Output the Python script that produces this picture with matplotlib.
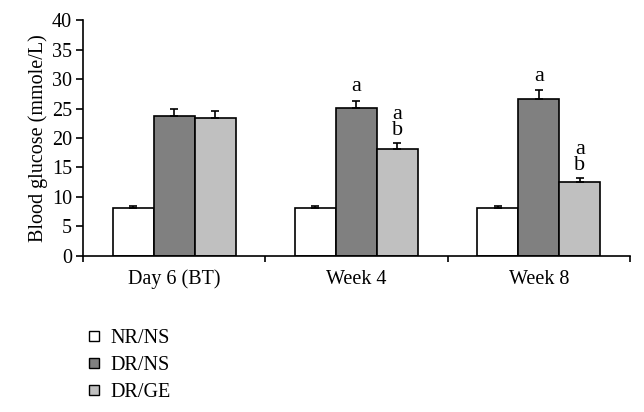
import numpy as np
import matplotlib
matplotlib.use("Agg")
import matplotlib.pyplot as plt
from matplotlib.lines import Line2D

# data
categories = ['Day 6 (BT)', 'Week 4', 'Week 8']
groups = ['NR/NS', 'DR/NS', 'DR/GE']
nr_ns = [8.1, 8.1, 8.1]
nr_ns_err = [0.4, 0.4, 0.4]
dr_ns = [23.8, 25.1, 26.7]
dr_ns_err = [1.2, 1.2, 1.4]
dr_ge = [23.4, 18.2, 12.5]
dr_ge_err = [1.2, 0.9, 0.7]
dr_ns_marks = ['', 'a', 'a']
dr_ge_marks = ['', 'a\nb', 'a\nb']

colors = ['#ffffff', '#808080', '#c0c0c0']

plt.rcParams['font.family'] = ['Liberation Serif', 'DejaVu Serif']

fig = plt.figure(figsize=(6.44, 4.12), dpi=100)
ax = fig.add_axes([0.129, 0.379, 0.849, 0.572])

x = np.arange(len(categories))
w = 0.225
series = [(nr_ns, nr_ns_err), (dr_ns, dr_ns_err), (dr_ge, dr_ge_err)]
for i, (vals, errs) in enumerate(series):
    pos = x + (i - 1) * w
    ax.bar(pos, vals, width=w, color=colors[i], edgecolor='black', linewidth=1.2,
           yerr=[np.zeros(len(errs)), errs], capsize=3,
           error_kw=dict(elinewidth=1.2, capthick=1.2, ecolor='black'),
           zorder=2)

# significance letters
for xi, v, e, m in zip(x, dr_ns, dr_ns_err, dr_ns_marks):
    if m:
        ax.text(xi, v + e + 0.8, m, ha='center', va='bottom', fontsize=16,
                linespacing=0.75)
for xi, v, e, m in zip(x, dr_ge, dr_ge_err, dr_ge_marks):
    if m:
        ax.text(xi + w, v + e + 0.6, m, ha='center', va='bottom', fontsize=16,
                linespacing=0.75)

ax.set_xlim(-0.5, 2.5)
ax.set_ylim(0, 40)
ax.set_yticks(range(0, 41, 5))
ax.set_xticks([-0.5, 0.5, 1.5, 2.5])
ax.set_xticklabels([])
ax.set_xticks(x, minor=True)
ax.set_xticklabels(categories, minor=True)
ax.tick_params(axis='x', which='minor', length=0, pad=10, labelsize=14.5)
ax.tick_params(axis='x', which='major', direction='out', length=4, width=1.2)
ax.tick_params(axis='y', direction='out', length=5, width=1.2, labelsize=14.5, pad=3)
ax.set_ylabel('Blood glucose (mmole/L)', fontsize=14.5, labelpad=3)
for s in ['top', 'right']:
    ax.spines[s].set_visible(False)
for s in ['left', 'bottom']:
    ax.spines[s].set_linewidth(1.2)

handles = [Line2D([], [], marker='s', linestyle='none', markersize=7,
                  markerfacecolor=c, markeredgecolor='black', markeredgewidth=1)
           for c in colors]
fig.legend(handles, groups, loc='upper left', bbox_to_anchor=(0.118, 0.222),
           frameon=False, fontsize=14.5, handletextpad=0.3, labelspacing=0.4,
           handlelength=1.0, borderaxespad=0)

fig.savefig('out.png', dpi=100)
